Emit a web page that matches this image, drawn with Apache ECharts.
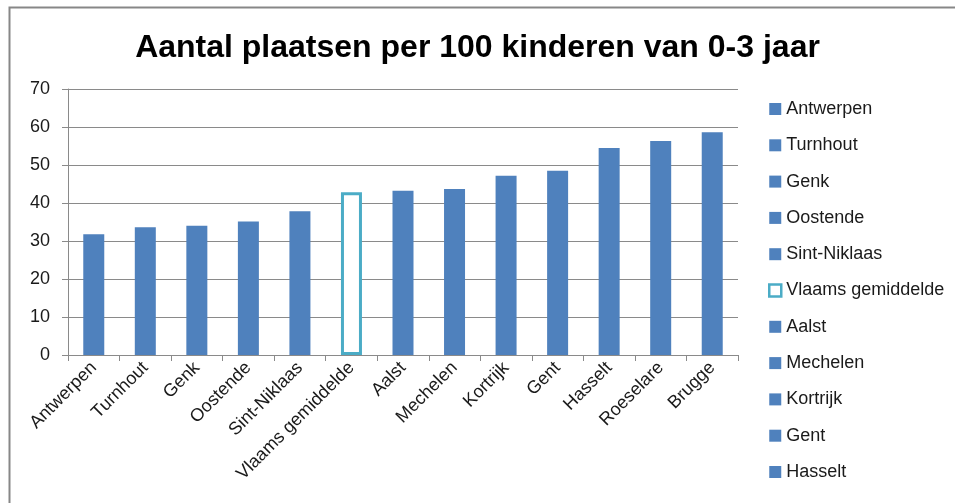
<!DOCTYPE html>
<html>
<head>
<meta charset="utf-8">
<script src="https://cdn.jsdelivr.net/npm/echarts@6/dist/echarts.min.js"></script>
<style>
html,body{margin:0;padding:0;background:#fff;}
#chart{width:955px;height:503px;}
</style>
</head>
<body>
<div id="chart"></div>
<script>
var titleText = 'Aantal plaatsen per 100 kinderen van 0-3 jaar';
var categories = ['Antwerpen','Turnhout','Genk','Oostende','Sint-Niklaas','Vlaams gemiddelde','Aalst','Mechelen','Kortrijk','Gent','Hasselt','Roeselare','Brugge'];
var values = [31.8, 33.6, 34.0, 35.1, 37.8, 42.8, 43.2, 43.7, 47.2, 48.5, 54.5, 56.3, 58.6];
var averageName = 'Vlaams gemiddelde';
var legendNames = categories.slice(0, 11);
var yTicks = [0, 10, 20, 30, 40, 50, 60, 70];

var FONT = 'Liberation Sans, Arial, sans-serif';
var BLUE = '#4f81bd';
var TEAL = '#4bacc6';
var GRID = '#8a8a8a';

var series = categories.map(function (name, i) {
  var isAvg = name === averageName;
  return {
    name: name,
    type: 'bar',
    stack: 'all',
    barWidth: 21,
    data: categories.map(function (c, j) { return j === i ? values[i] : '-'; }),
    itemStyle: isAvg
      ? { color: '#ffffff', borderColor: TEAL, borderWidth: 3 }
      : { color: BLUE },
    emphasis: { disabled: true }
  };
});

var legendData = legendNames.map(function (n) {
  if (n === averageName) {
    return { name: n, itemStyle: { color: '#ffffff', borderColor: TEAL, borderWidth: 2.5 } };
  }
  return { name: n, itemStyle: { color: BLUE, borderWidth: 0 } };
});

var chart = echarts.init(document.getElementById('chart'), null, { renderer: 'canvas' });
chart.setOption({
  animation: false,
  backgroundColor: '#ffffff',
  title: {
    text: titleText,
    left: 'center',
    top: 27,
    textStyle: { fontFamily: FONT, fontSize: 32, fontWeight: 'bold', color: '#000' }
  },
  graphic: [{
    type: 'rect',
    left: 7, top: 5,
    shape: { width: 1000, height: 600 },
    style: { fill: 'none', stroke: '#878787', lineWidth: 2 },
    silent: true
  }],
  legend: {
    orient: 'vertical',
    left: 763,
    top: 95,
    itemWidth: 12,
    itemHeight: 12,
    itemGap: 18.3,
    icon: 'rect',
    selectedMode: false,
    data: legendData,
    textStyle: { fontFamily: FONT, fontSize: 18, color: '#1a1a1a' }
  },
  grid: { left: 68, right: 217, top: 89, bottom: 148, containLabel: false },
  xAxis: {
    type: 'category',
    data: categories,
    axisLine: { lineStyle: { color: GRID, width: 1 } },
    axisTick: { show: true, length: 6, lineStyle: { color: GRID } },
    axisLabel: {
      rotate: 45,
      interval: 0,
      margin: 10,
      fontFamily: FONT,
      fontSize: 18,
      color: '#1a1a1a'
    }
  },
  yAxis: {
    type: 'value',
    min: yTicks[0],
    max: yTicks[yTicks.length - 1],
    interval: yTicks[1] - yTicks[0],
    axisLine: { show: true, lineStyle: { color: GRID, width: 1 } },
    axisTick: { show: true, length: 6, lineStyle: { color: GRID } },
    splitLine: { show: true, lineStyle: { color: GRID, width: 1 } },
    axisLabel: { margin: 18, fontFamily: FONT, fontSize: 18, color: '#1a1a1a' }
  },
  series: series
});
</script>
</body>
</html>
